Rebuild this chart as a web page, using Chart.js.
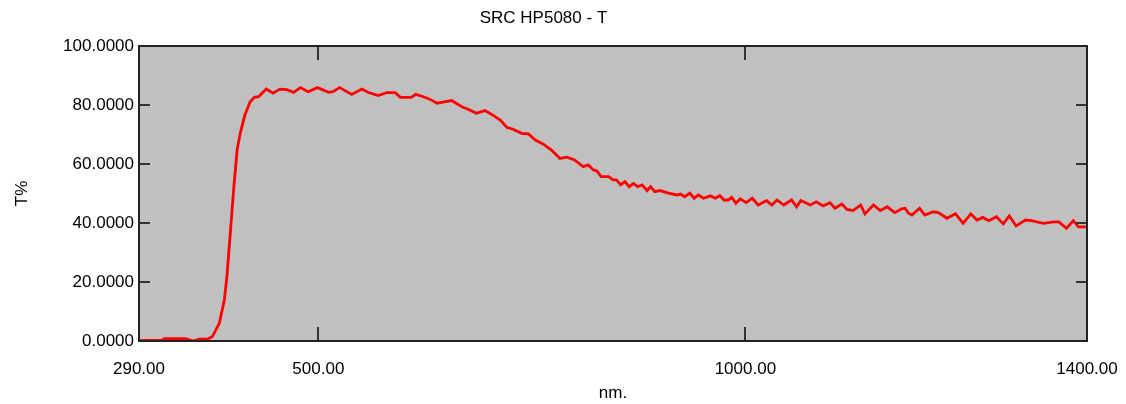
<!DOCTYPE html>
<html>
<head>
<meta charset="utf-8">
<script src="https://cdn.jsdelivr.net/npm/chart.js@4/dist/chart.umd.min.js"></script>
<style>
  body { margin: 0; background: #fff; }
  #wrap { width: 1126px; height: 404px; }
</style>
</head>
<body>
<div id="wrap"><canvas id="specChart" width="1126" height="404"></canvas></div>
<script>
// Spectrum (wavelength in nm, transmittance in %)
const wavelengths = [
  290, 300, 316, 320, 330, 344, 350, 354, 360, 370,
  376, 384, 390, 393, 397, 401, 405, 409, 414, 420,
  425, 430, 434, 439, 447, 455, 463, 471, 479, 488,
  499, 512, 517, 525, 539, 551, 558, 570, 580, 590,
  596, 609, 614, 623, 631, 639, 646, 656, 668, 676,
  685, 695, 703, 713, 721, 728, 738, 746, 754, 763,
  773, 783, 791, 800, 806, 810, 816, 822, 826, 831,
  840, 845, 849, 854, 859, 864, 869, 874, 879, 885,
  889, 894, 900, 910, 920, 924, 929, 935, 940, 945,
  951, 959, 965, 970, 975, 980, 984, 989, 994, 1001,
  1008, 1015, 1025, 1031, 1037, 1045, 1054, 1060, 1065, 1076,
  1083, 1091, 1099, 1105, 1113, 1119, 1126, 1135, 1140, 1150,
  1158, 1166, 1175, 1183, 1187, 1191, 1195, 1204, 1210, 1220,
  1226, 1236, 1246, 1255, 1264, 1271, 1278, 1285, 1294, 1302,
  1309, 1317, 1328, 1335, 1349, 1361, 1367, 1376, 1384, 1390,
  1400
];
const transmittance = [
  0.2, 0.2, 0.2, 0.8, 0.8, 0.8, 0.3, 0.0, 0.6, 0.6,
  1.5, 6, 14, 22, 37, 52, 65, 71, 76.6, 81,
  82.6, 82.8, 84, 85.4, 84, 85.4, 85.2, 84.3, 85.9, 84.5,
  85.9, 84.3, 84.5, 85.9, 83.6, 85.4, 84.3, 83.2, 84.2, 84.2,
  82.6, 82.6, 83.6, 82.8, 81.9, 80.6, 81, 81.5, 79.4, 78.5,
  77.2, 78.1, 76.8, 74.9, 72.4, 71.8, 70.4, 70.2, 68.1, 66.8,
  64.7, 61.9, 62.3, 61.4, 60, 59.1, 59.7, 58, 57.7, 55.7,
  55.7, 54.6, 54.6, 52.9, 54, 52.3, 53.4, 52.3, 52.9, 51,
  52.3, 50.6, 51, 50.1, 49.5, 49.8, 48.9, 50.1, 48.4, 49.5,
  48.4, 49.2, 48.4, 49.3, 47.8, 47.8, 48.7, 46.7, 48.2, 46.9,
  48.4, 46.1, 47.6, 46.1, 47.8, 46.1, 47.8, 45.5, 47.6, 46.1,
  47.2, 45.8, 46.9, 45, 46.4, 44.6, 44.2, 46.1, 43.1, 46.1,
  44.2, 45.5, 43.5, 44.8, 45, 43.3, 42.7, 45, 42.7, 43.8,
  43.5, 41.6, 43.1, 39.9, 43.1, 41, 41.9, 40.8, 42.1, 39.7,
  42.4, 39, 41, 40.8, 39.9, 40.4, 40.4, 38.2, 40.8, 38.7,
  38.7
];
const xTickValues = [290, 500, 1000, 1400];
const yTickValues = [0, 20, 40, 60, 80, 100];

const FONT = 'Arial, "Liberation Sans", sans-serif';

// grey plot area, frame and inward tick marks
const framePlugin = {
  id: 'frame',
  beforeDraw(chart) {
    const { ctx, chartArea: a } = chart;
    ctx.save();
    ctx.fillStyle = '#c0c0c0';
    ctx.fillRect(a.left, a.top, a.right - a.left, a.bottom - a.top);
    ctx.restore();
  },
  afterDraw(chart) {
    const { ctx, chartArea: a, scales } = chart;
    ctx.save();
    ctx.strokeStyle = '#333';
    ctx.lineWidth = 2;
    ctx.beginPath();
    xTickValues.forEach(v => {
      const px = Math.round(scales.x.getPixelForValue(v));
      ctx.moveTo(px, a.bottom);
      ctx.lineTo(px, a.bottom - 14);
      ctx.moveTo(px, a.top);
      ctx.lineTo(px, a.top + 14);
    });
    yTickValues.forEach(v => {
      const py = Math.round(scales.y.getPixelForValue(v));
      ctx.moveTo(a.left, py);
      ctx.lineTo(a.left + 11, py);
      ctx.moveTo(a.right, py);
      ctx.lineTo(a.right - 11, py);
    });
    ctx.stroke();
    ctx.strokeStyle = '#222';
    ctx.strokeRect(a.left, a.top, a.right - a.left, a.bottom - a.top);
    ctx.restore();
  }
};

const ctx = document.getElementById('specChart').getContext('2d');
new Chart(ctx, {
  type: 'line',
  data: {
    datasets: [{
      label: 'T',
      data: wavelengths.map((w, i) => ({ x: w, y: transmittance[i] })),
      borderColor: '#ff0000',
      borderWidth: 2.8,
      pointRadius: 0,
      tension: 0,
      fill: false
    }]
  },
  options: {
    responsive: false,
    animation: false,
    layout: { padding: { left: 0, right: 39, top: 0, bottom: 0 } },
    plugins: {
      legend: { display: false },
      tooltip: { enabled: false },
      title: {
        display: true,
        text: 'SRC HP5080 - T',
        color: '#000',
        font: { family: FONT, size: 17, weight: 'normal', lineHeight: 1.2 },
        padding: { top: 8, bottom: 17.6 }
      }
    },
    scales: {
      x: {
        type: 'linear',
        min: 290,
        max: 1400,
        grid: { display: false, drawTicks: false },
        border: { display: false },
        afterBuildTicks: s => { s.ticks = xTickValues.map(v => ({ value: v })); },
        afterFit: s => { s.height = 63; s.paddingLeft = 0; s.paddingRight = 0; },
        ticks: {
          autoSkip: false,
          maxRotation: 0,
          padding: 18,
          color: '#000',
          font: { family: FONT, size: 17 },
          callback: v => Number(v).toFixed(2)
        },
        title: {
          display: true,
          text: 'nm.',
          color: '#000',
          font: { family: FONT, size: 17 },
          padding: { top: 0, bottom: 0 }
        }
      },
      y: {
        min: 0,
        max: 100,
        grid: { display: false, drawTicks: false },
        border: { display: false },
        afterBuildTicks: s => { s.ticks = yTickValues.map(v => ({ value: v })); },
        afterFit: s => { s.width = 139; },
        ticks: {
          padding: 5,
          color: '#000',
          font: { family: FONT, size: 17 },
          callback: v => Number(v).toFixed(4)
        },
        title: {
          display: true,
          text: 'T%',
          color: '#000',
          font: { family: FONT, size: 17 },
          padding: { top: 12, bottom: 0 }
        }
      }
    }
  },
  plugins: [framePlugin]
});
</script>
</body>
</html>
